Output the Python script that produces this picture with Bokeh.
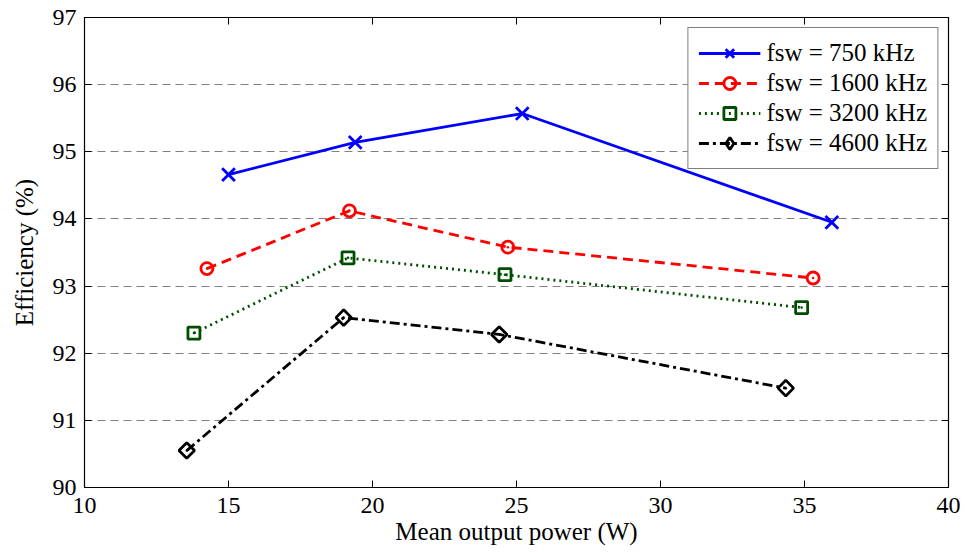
import math
from bokeh.plotting import figure
from bokeh.models import LinearAxis, Range1d, FixedTicker, Legend, LegendItem
from bokeh.embed import file_html
from bokeh.resources import INLINE

labels = ["fsw = 750 kHz", "fsw = 1600 kHz", "fsw = 3200 kHz", "fsw = 4600 kHz"]
x750 = [15.0, 19.4, 25.2, 35.95]
y750 = [94.66, 95.14, 95.57, 93.95]
x1600 = [14.25, 19.2, 24.7, 35.3]
y1600 = [93.26, 94.12, 93.58, 93.12]
x3200 = [13.8, 19.15, 24.6, 34.9]
y3200 = [92.3, 93.42, 93.17, 92.68]
x4600 = [13.55, 19.0, 24.4, 34.35]
y4600 = [90.55, 92.53, 92.28, 91.48]
xticks = [10, 15, 20, 25, 30, 35, 40]
yticks = [90, 91, 92, 93, 94, 95, 96, 97]

FONT = "Liberation Serif"

p = figure(width=965, height=552, output_backend="svg", toolbar_location=None,
           x_range=Range1d(10, 40), y_range=Range1d(90, 97),
           min_border_left=84, min_border_right=17, min_border_top=17, min_border_bottom=65)
p.outline_line_color = "black"
p.outline_line_width = 1.2
p.background_fill_color = "white"

for ax in p.xaxis + p.yaxis:
    ax.major_tick_in = 7
    ax.major_tick_out = 0
    ax.minor_tick_line_color = None
    ax.axis_line_color = "black"
    ax.major_label_text_font = FONT
    ax.major_label_text_font_size = "24px"
    ax.major_label_text_color = "black"
    ax.axis_label_text_font = FONT
    ax.axis_label_text_font_size = "25px"
    ax.axis_label_text_font_style = "normal"
    ax.axis_label_text_color = "black"
p.xaxis.ticker = FixedTicker(ticks=xticks)
p.yaxis.ticker = FixedTicker(ticks=yticks)
p.xaxis.axis_label = "Mean output power (W)"
p.yaxis.axis_label = "Efficiency (%)"
p.xaxis.major_label_standoff = 10
p.yaxis.major_label_standoff = 8
p.xaxis.axis_label_standoff = 2
p.yaxis.axis_label_standoff = 12

top = LinearAxis(ticker=FixedTicker(ticks=xticks),
                 major_label_overrides={t: "" for t in xticks},
                 major_tick_in=7, major_tick_out=0, minor_tick_line_color=None)
right = LinearAxis(ticker=FixedTicker(ticks=yticks),
                   major_label_overrides={t: "" for t in yticks},
                   major_tick_in=7, major_tick_out=0, minor_tick_line_color=None)
p.add_layout(top, "above")
p.add_layout(right, "right")

p.xgrid.grid_line_color = None
p.ygrid.ticker = FixedTicker(ticks=[91, 92, 93, 94, 95, 96])
p.ygrid.grid_line_color = "#808080"
p.ygrid.grid_line_dash = "8 5"
p.ygrid.grid_line_width = 1.2

series = [
    (x750, y750, "#0000ff", "solid", "x", 18, 0),
    (x1600, y1600, "#ff0000", "10 6", "circle", 12, 0),
    (x3200, y3200, "#004d00", "2 4", "square", 12, 0),
    (x4600, y4600, "#000000", "10 4 3 4", "square", 11, math.pi / 4),
]
items = []
for (xs, ys, c, dash, mk, sz, ang), lab in zip(series, labels):
    r1 = p.line(xs, ys, line_color=c, line_width=2.8, line_dash=dash)
    r2 = p.scatter(xs, ys, marker=mk, size=sz, angle=ang, line_color=c, fill_color=None,
                   line_width=2.8)
    if mk != "x":
        p.scatter(xs, ys, marker="circle", size=2.5, line_color=None, fill_color=c)
    if ang:
        # legend-only diamond (zero size on the plot; the legend sizes it itself)
        r2 = p.scatter(xs, ys, marker="diamond", size=0, line_color=c,
                       fill_color=None, line_width=2.8)
    items.append(LegendItem(label=lab, renderers=[r1, r2]))

leg = Legend(items=items, location="top_right")
leg.label_text_font = FONT
leg.label_text_font_size = "25px"
leg.label_text_color = "black"
leg.glyph_width = 62
leg.glyph_height = 30
leg.label_height = 30
leg.spacing = 0
leg.padding = 10
leg.margin = 10
leg.label_standoff = 6
leg.border_line_color = "black"
leg.border_line_width = 1.2
p.add_layout(leg)

open("out.html", "w").write(file_html(p, INLINE))
